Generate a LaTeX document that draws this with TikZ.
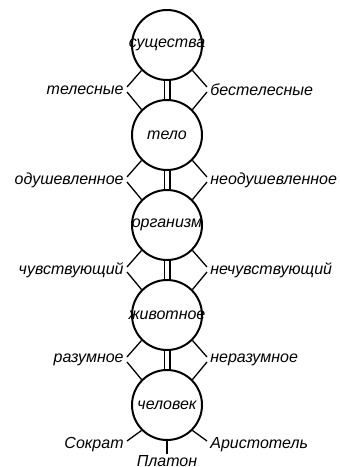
\documentclass[tikz,border=0pt]{standalone}
\usepackage{fontspec}
\setmainfont{Liberation Sans}
\usepackage{tikz}
\usetikzlibrary{positioning,calc}

\newcommand\kindname[1]{\makebox[0pt]{#1}}

\tikzset{
  kind/.style={draw, circle, line width=1pt, minimum size=35pt, inner sep=0pt,
               font=\fontsize{8}{9.5}\selectfont\itshape},
  lbl/.style={inner sep=1.5pt, font=\fontsize{8}{9.5}\selectfont\itshape},
  branch/.style={line width=0.65pt},
  link/.style={double, double distance=2.4pt, line width=0.55pt}
}

\begin{document}
\begin{tikzpicture}[node distance=9pt]
    \useasboundingbox (0,0) rectangle (169.5pt,-233.5pt);

    % the chain of kinds
    \node[kind] (sush) at (83.5pt,-22.5pt) {\kindname{существа}};
    \node[kind, below=of sush] (telo) {\kindname{тело}};
    \node[kind, below=of telo] (organizm) {\kindname{организм}};
    \node[kind, below=of organizm] (zhivotnoe) {\kindname{животное}};
    \node[kind, below=of zhivotnoe] (chelovek) {\kindname{человек}};

    \draw[link] (sush) -- (telo);
    \draw[link] (telo) -- (organizm);
    \draw[link] (organizm) -- (zhivotnoe);
    \draw[link] (zhivotnoe) -- (chelovek);

    % differences, left and right
    \node[lbl, anchor=east] (telesnye) at ($(sush)!0.5!(telo)+(-20pt,0)$) {телесные};
    \node[lbl, anchor=west] (bestelesnye) at ($(sush)!0.5!(telo)+(20pt,0)$) {бестелесные};
    \node[lbl, anchor=east] (odush) at ($(telo)!0.5!(organizm)+(-20pt,0)$) {одушевленное};
    \node[lbl, anchor=west] (neodush) at ($(telo)!0.5!(organizm)+(20pt,0)$) {неодушевленное};
    \node[lbl, anchor=east] (chuvstv) at ($(organizm)!0.5!(zhivotnoe)+(-20pt,0)$) {чувствующий};
    \node[lbl, anchor=west] (nechuvstv) at ($(organizm)!0.5!(zhivotnoe)+(20pt,0)$) {нечувствующий};
    \node[lbl, anchor=east] (razumnoe) at ($(zhivotnoe)!0.5!(chelovek)+(-20pt,0)$) {разумное};
    \node[lbl, anchor=west] (nerazumnoe) at ($(zhivotnoe)!0.5!(chelovek)+(20pt,0)$) {неразумное};

    \foreach \up/\down/\l/\r in {sush/telo/telesnye/bestelesnye,
                                 telo/organizm/odush/neodush,
                                 organizm/zhivotnoe/chuvstv/nechuvstv,
                                 zhivotnoe/chelovek/razumnoe/nerazumnoe}{
        \draw[branch] (\up.225) -- ([yshift=1.5pt]\l.east);
        \draw[branch] ([yshift=-1pt]\l.east) -- (\down.135);
        \draw[branch] (\up.-45) -- ([yshift=1.5pt]\r.west);
        \draw[branch] ([yshift=-1pt]\r.west) -- (\down.45);
    }

    % individuals
    \node[lbl, anchor=east] (sokrat) at ($(chelovek)+(-20pt,-20pt)$) {Сократ};
    \node[lbl, anchor=west] (aristotel) at ($(chelovek)+(20pt,-20pt)$) {Аристотель};
    \node[lbl, inner sep=0.5pt, below=6.5pt of chelovek] (platon) {Платон};

    \draw[branch] (chelovek.south) -- (platon.north);
    \draw[branch] (chelovek.225) -- ([yshift=2pt]sokrat.east);
    \draw[branch] (chelovek.-45) -- ([yshift=2pt]aristotel.west);
\end{tikzpicture}
\end{document}
